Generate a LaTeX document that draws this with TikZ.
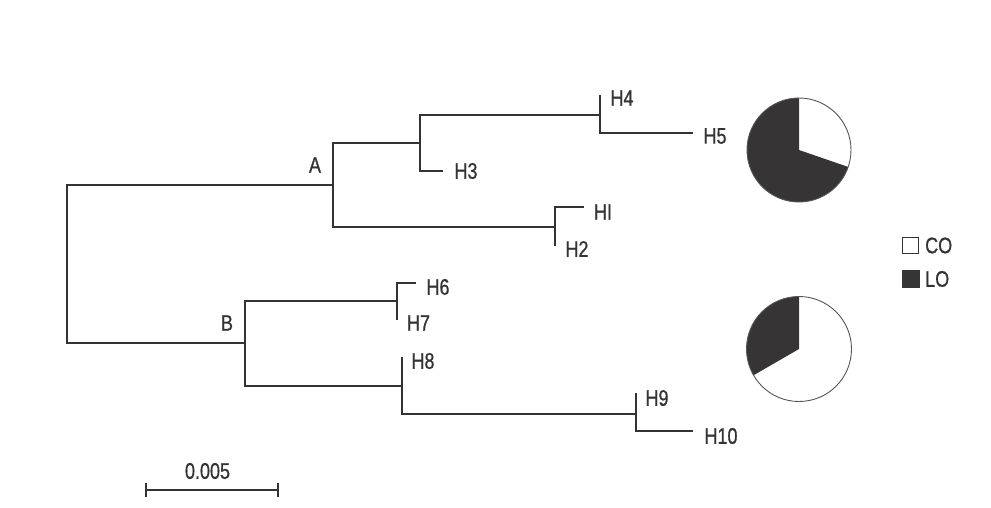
\documentclass[tikz,border=0pt]{standalone}
\usepackage{fontspec}
\setmainfont{Liberation Sans}[FakeStretch=0.8, FakeBold=0.7]
\definecolor{linec}{HTML}{333333}
\definecolor{textc}{HTML}{333333}
\definecolor{piedark}{HTML}{363435}
\definecolor{pieline}{HTML}{555555}
\begin{document}
\begin{tikzpicture}[x=1pt,y=-1pt,
  br/.style={line width=1.4pt, draw=linec, line join=miter},
  lab/.style={font=\fontsize{22.5}{24}\selectfont, text=textc, inner sep=0pt, anchor=center},
  leg/.style={font=\fontsize{22.5}{24}\selectfont, text=textc, inner sep=0pt, anchor=west},
  pieedge/.style={draw=pieline, line width=0.9pt}]
\fill[white] (0,0) rectangle (991,507);
\useasboundingbox (0,0) rectangle (991,507);
% tree coordinates
\coordinate (r1) at (67,185); \coordinate (r2) at (67,343);
\coordinate (a0) at (333,185); \coordinate (a1) at (333,143); \coordinate (a2) at (333,227);
\coordinate (c0) at (420,143); \coordinate (c1) at (420,115); \coordinate (c2) at (420,171); \coordinate (h3) at (443,171);
\coordinate (d0) at (600,115); \coordinate (d1) at (600,95); \coordinate (d2) at (600,133); \coordinate (h5) at (693,133);
\coordinate (e0) at (555,227); \coordinate (e1) at (555,207); \coordinate (e2) at (555,246); \coordinate (h1) at (584,207);
\coordinate (b0) at (245,343); \coordinate (b1) at (245,301); \coordinate (b2) at (245,386);
\coordinate (f0) at (397,301); \coordinate (f1) at (397,283); \coordinate (f2) at (397,320); \coordinate (h6) at (416,283);
\coordinate (g0) at (402,386); \coordinate (g1) at (402,357); \coordinate (g2) at (402,414);
\coordinate (k0) at (636,414); \coordinate (k1) at (636,393); \coordinate (k2) at (636,431); \coordinate (h10) at (693,431);
% branches
\draw[br] (a0) -- (r1) -- (r2) -- (b0);
\draw[br] (c0) -- (a1) -- (a2) -- (e0);
\draw[br] (d0) -- (c1) -- (c2) -- (h3);
\draw[br] (d1) -- (d2) -- (h5);
\draw[br] (h1) -- (e1) -- (e2);
\draw[br] (f0) -- (b1) -- (b2) -- (g0);
\draw[br] (h6) -- (f1) -- (f2);
\draw[br] (g1) -- (g2) -- (k0);
\draw[br] (k1) -- (k2) -- (h10);
% labels
\node[lab] (lA) at (315,165) {A};
\node[lab] (lB) at (227,323) {B};
\node[lab] (lH4) at (622,98) {H4};
\node[lab] (lH5) at (715,136) {H5};
\node[lab] (lH3) at (466,171) {H3};
\node[lab] (lH1) at (603,212) {HI};
\node[lab] (lH2) at (577,249) {H2};
\node[lab] (lH6) at (438,287) {H6};
\node[lab] (lH7) at (418.5,323) {H7};
\node[lab] (lH8) at (423,361) {H8};
\node[lab] (lH9) at (657,398) {H9};
\node[lab] (lH10) at (721,436) {H10};
% scale bar
\coordinate (s1) at (146,490); \coordinate (s2) at (278,490);
\draw[br] (s1) -- (s2);
\draw[br] ([yshift=-7pt]s1) -- ([yshift=7pt]s1);
\draw[br] ([yshift=-7pt]s2) -- ([yshift=7pt]s2);
\node[lab] (scl) at (207.5,471) {0.005};
% pies
\begin{scope}[shift={(799,150)}, y=1pt]
  \fill[piedark] (0,0) -- (90:52) arc[start angle=90, end angle=341, radius=52] -- cycle;
  \draw[pieedge] (0,0) circle[radius=52];
\end{scope}
\begin{scope}[shift={(799,349)}, y=1pt]
  \fill[piedark] (0,0) -- (90:52.5) arc[start angle=90, end angle=210, radius=52.5] -- cycle;
  \draw[pieedge] (0,0) circle[radius=52.5];
\end{scope}
% legend
\node[draw=linec, line width=1.4pt, fill=white, minimum size=16pt, inner sep=0pt] (kCO) at (910.5,245.5) {};
\node[draw=piedark, fill=piedark, minimum size=17pt, inner sep=0pt] (kLO) at (910.5,279) {};
\node[leg] (tCO) at (925,245.5) {CO};
\node[leg] (tLO) at (925,279) {LO};
\end{tikzpicture}
\end{document}
